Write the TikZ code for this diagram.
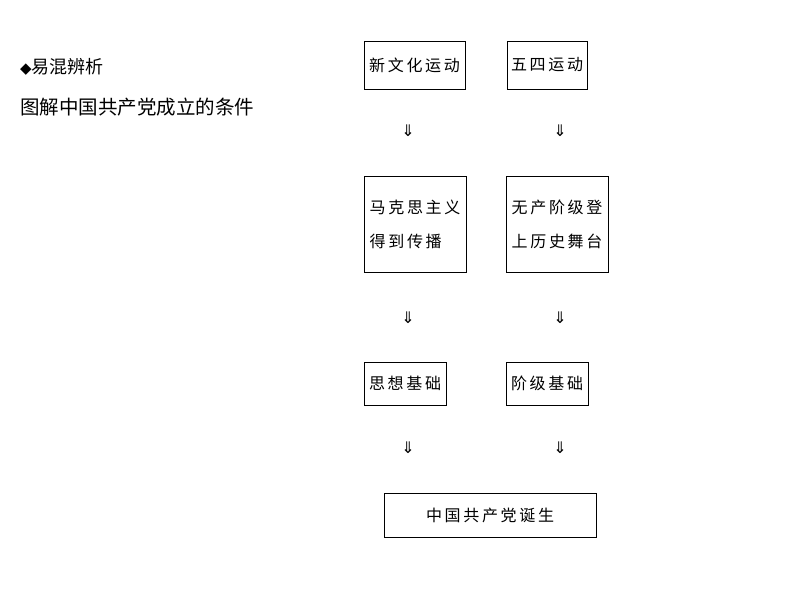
\documentclass[tikz,border=0pt]{standalone}
\usepackage{fontspec}
\newfontfamily\cjk{Noto Sans CJK SC}
\newfontfamily\sym{DejaVu Sans}
\begin{document}
\begin{tikzpicture}[x=1pt,y=-1pt,
  bx/.style={draw,line width=0.6pt,inner sep=0pt,align=center,font=\cjk\fontsize{16}{34}\selectfont},
  arr/.style={font=\sym\fontsize{16}{16}\selectfont,inner sep=0pt}]
\useasboundingbox (0,0) rectangle (794,596);
\node[anchor=west,font=\cjk\fontsize{18}{18}\selectfont,inner sep=0pt] (t1) at (20,67) {{\sym\fontsize{15}{15}\selectfont◆}易混辨析};
\node[anchor=west,font=\cjk\fontsize{19.5}{20}\selectfont,inner sep=0pt] (t2) at (20,107) {图解中国共产党成立的条件};
\node[bx,minimum width=101,minimum height=48] (a) at (414.5,65) {新\,文\,化\,运\,动};
\node[bx,minimum width=80,minimum height=48] (b) at (547,65) {五\,四\,运\,动};
\node[bx,minimum width=102,minimum height=96,align=left] (c) at (415,224) {马\,克\,思\,主\,义\\得\,到\,传\,播};
\node[bx,minimum width=102,minimum height=96,align=left] (d) at (557,224) {无\,产\,阶\,级\,登\\上\,历\,史\,舞\,台};
\node[bx,minimum width=82,minimum height=43] (e) at (405,383.5) {思\,想\,基\,础};
\node[bx,minimum width=82,minimum height=43] (f) at (547,383.5) {阶\,级\,基\,础};
\node[bx,minimum width=212,minimum height=44] (g) at (490,515) {中\,国\,共\,产\,党\,诞\,生};
\node[arr] (a1) at (408,131) {⇓};
\node[arr] (b1) at (560,131) {⇓};
\node[arr] (c1) at (408,318) {⇓};
\node[arr] (d1) at (560,318) {⇓};
\node[arr] (e1) at (408,448) {⇓};
\node[arr] (f1) at (560,448) {⇓};
\end{tikzpicture}
\end{document}
